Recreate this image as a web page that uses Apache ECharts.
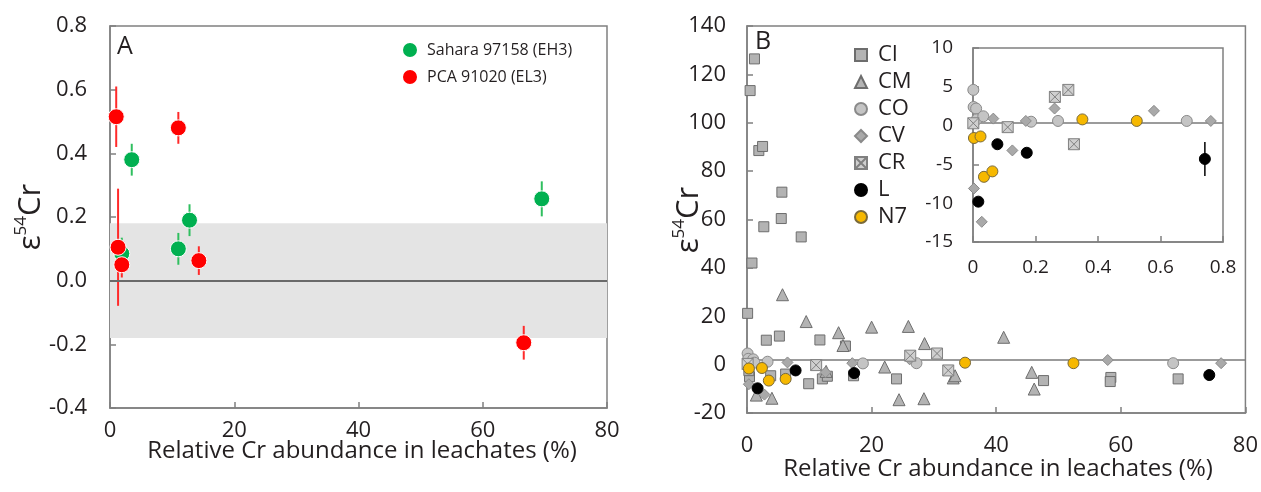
<!DOCTYPE html>
<html>
<head>
<meta charset="utf-8">
<script src="https://cdn.jsdelivr.net/npm/echarts@6/dist/echarts.min.js"></script>
<style>
html,body{margin:0;padding:0;background:#fff;}
#chart{width:1261px;height:492px;}
</style>
</head>
<body>
<div id="chart"></div>
<script>
// ---------- Panel A data: [relative Cr abundance %, e54Cr] ----------
const saharaPts = [[3.5,0.38],[12.8,0.19],[11.0,0.10],[1.9,0.085],[69.5,0.257]];
const saharaErr = [0.05,0.05,0.05,0.05,0.055];
const pcaPts = [[1.0,0.515],[11.0,0.48],[1.3,0.105],[1.9,0.05],[14.3,0.063],[66.6,-0.195]];
const pcaErr = [0.095,0.05,0.184,0.04,0.045,0.053];
const bandA = [-0.18, 0.18];

// ---------- Panel B data: [relative Cr abundance %, e54Cr] ----------
const ciPts = [[1.2,126.4],[0.5,113.3],[1.9,88.5],[2.5,90.2],[5.6,71.3],[5.5,60.4],[2.7,57],[8.7,52.8],[0.8,42],[0.1,21.2],[3.1,10.1],[5.2,11.8],[11.7,10.2],[15.8,7.7],[0.4,-5],[0.3,-2.5],[3.8,-4.6],[6.2,-3.9],[9.9,-7.9],[12.1,-5.9],[12.9,-4.8],[17.1,-4.6],[24.0,-5.9],[47.6,-6.6],[58.4,-5.3],[58.3,-7],[69.2,-5.9]];
const cmPts = [[5.7,28.9],[9.5,17.8],[14.7,13.2],[15.4,7.9],[20.0,15.5],[25.9,15.8],[28.5,8.7],[22.1,-1],[12.7,-2.8],[24.4,-14.5],[28.4,-14.1],[1.5,-12.6],[4.0,-13.9],[33.1,-5.5],[33.4,-4.6],[41.2,11.3],[45.7,-3.2],[46.1,-10.1]];
const coPts = [[0.1,4.6],[0.2,2.4],[1.0,2.2],[1.2,0.8],[3.3,1.2],[18.6,0.5],[27.2,0.6],[68.4,0.6]];
const cvPts = [[0.3,-8.1],[2.8,-12.4],[6.5,0.9],[12.6,-3.2],[16.9,0.6],[26.1,2.2],[57.9,1.9],[76.1,0.6]];
const crPts = [[0.1,0.3],[11.1,-0.2],[26.2,3.7],[30.5,4.6],[32.3,-2.4]];
const lPts = [[1.7,-9.8],[7.8,-2.4],[17.2,-3.5],[74.2,-4.3]];
const lErr = [0,0,0,2.2];
const n7Pts = [[0.3,-1.6],[2.4,-1.4],[3.5,-6.6],[6.2,-5.9],[35.0,0.8],[52.4,0.6]];
const refLineMain = 2;
const refLineInset = 0.4;

// ---------- tick labels / titles ----------
const xTicksPct = [0,20,40,60,80];
const insetXLabels = ['0','0.2','0.4','0.6','0.8'];
const xTitle = 'Relative Cr abundance in leachates (%)';
const yTitle = '{a|ε}{s|54}{a|Cr}';

const FONT = 'Open Sans';
const TXT = '#231f20';
const AX = '#808080';

function errSeries(pts, errs, xi, yi, color, width){
  return {
    type:'custom', xAxisIndex:xi, yAxisIndex:yi, silent:true, z:2,
    data: pts.map((d,i)=>[d[0], d[1]-errs[i], d[1]+errs[i]]),
    encode:{x:0, y:[1,2]},
    renderItem:(params, api)=>{
      const lo = api.coord([api.value(0), api.value(1)]);
      const hi = api.coord([api.value(0), api.value(2)]);
      return {type:'line', shape:{x1:lo[0],y1:lo[1],x2:hi[0],y2:hi[1]}, style:{stroke:color, lineWidth:width}};
    }
  };
}

const yRich = {
  a:{fontSize:31, fontFamily:FONT, fill:TXT, lineHeight:36},
  s:{fontSize:17, fontFamily:FONT, fill:TXT, verticalAlign:'top', lineHeight:18}
};

function xAxisDef(extra){
  return Object.assign({
    type:'value', min:0, max:80, interval:20,
    axisLine:{show:true, onZero:false, lineStyle:{color:AX, width:1.5}},
    axisTick:{show:true, inside:true, length:6, lineStyle:{color:AX, width:1.5}},
    splitLine:{show:false}
  }, extra);
}
function yAxisDef(extra){
  return Object.assign({
    type:'value',
    axisLine:{show:true, onZero:false, lineStyle:{color:AX, width:1.5}},
    axisTick:{show:true, inside:true, length:6, lineStyle:{color:AX, width:1.5}},
    splitLine:{show:false}
  }, extra);
}

const CR_PATH = 'path://M0 0L10 0L10 10L0 10Z M0 0L10 10M10 0L0 10';

const gridA = {left:110, top:26, width:497, height:382, show:true, borderColor:AX, borderWidth:1.5};
const gridB = {left:747, top:26, width:502, height:387, show:true, borderColor:AX, borderWidth:1.5};
const gridI = {left:973, top:48, width:250, height:194, show:true, borderColor:AX, borderWidth:1.5, backgroundColor:'#fff'};

function bSeries(name, pts, xi, yi, symbol, size, fill, stroke, z){
  return {
    name:name, type:'scatter', xAxisIndex:xi, yAxisIndex:yi, data:pts,
    symbol:symbol, symbolSize:size, z:z, clip:true,
    itemStyle:{color:fill, borderColor:stroke, borderWidth:1, opacity:1},
    emphasis:{disabled:true}
  };
}

const styles = {
  CI:['rect',10,'#b3b3b3','#6d6d6d'],
  CM:['triangle',12,'#b3b3b3','#6d6d6d'],
  CO:['circle',11,'#c4c4c4','#8a8a8a'],
  CV:['diamond',11,'#a9a9a9','#8a8a8a'],
  CR:[CR_PATH,11,'#cfcfcf','#808080'],
  L:['circle',11,'#000000','#000000'],
  N7:['circle',11,'#f6b800','#7a6a3a']
};

const series = [];
// Panel A band and zero line
series.push({
  type:'scatter', xAxisIndex:0, yAxisIndex:0, data:[], z:0, silent:true,
  markArea:{silent:true, itemStyle:{color:'#e4e4e4'}, data:[[{yAxis:bandA[0]},{yAxis:bandA[1]}]]},
  markLine:{silent:true, symbol:'none', label:{show:false}, lineStyle:{color:'#6a6a6a', width:2, type:'solid'}, data:[{yAxis:0}]}
});
series.push(errSeries(saharaPts, saharaErr, 0, 0, '#2fbf5f', 2));
series.push({name:'Sahara 97158 (EH3)', type:'scatter', xAxisIndex:0, yAxisIndex:0, data:saharaPts, symbolSize:16, z:3,
  itemStyle:{color:'#00b050', borderColor:'#ffffff', borderWidth:1, opacity:1}, emphasis:{disabled:true}});
series.push(errSeries(pcaPts, pcaErr, 0, 0, '#ff2a2a', 2));
series.push({name:'PCA 91020 (EL3)', type:'scatter', xAxisIndex:0, yAxisIndex:0, data:pcaPts, symbolSize:16, z:4,
  itemStyle:{color:'#ff0000', borderColor:'#ffffff', borderWidth:1, opacity:1}, emphasis:{disabled:true}});

// Panel B main
series.push({
  type:'scatter', xAxisIndex:1, yAxisIndex:1, data:[], z:0, silent:true,
  markLine:{silent:true, symbol:'none', label:{show:false}, lineStyle:{color:'#7a7a7a', width:1.5, type:'solid'}, data:[{yAxis:refLineMain}]}
});
const bData = [['CI',ciPts],['CM',cmPts],['CO',coPts],['CV',cvPts],['CR',crPts],['L',lPts],['N7',n7Pts]];
bData.forEach((d,i)=>{
  const s = styles[d[0]];
  series.push(bSeries(d[0], d[1], 1, 1, s[0], s[1], s[2], s[3], 3+i));
});
series.push(errSeries(lPts, lErr, 1, 1, '#000', 1.5));

// Inset (same data without CI / CM; x axis labelled as a fraction)
series.push({
  type:'scatter', xAxisIndex:2, yAxisIndex:2, data:[], z:5, silent:true,
  markLine:{silent:true, symbol:'none', label:{show:false}, lineStyle:{color:'#7a7a7a', width:1.5, type:'solid'}, data:[{yAxis:refLineInset}]}
});
series.push(errSeries(lPts, lErr, 2, 2, '#000', 1.5));
bData.slice(2).forEach((d,i)=>{
  const s = styles[d[0]];
  series.push(bSeries(d[0], d[1], 2, 2, s[0], s[1], s[2], s[3], 6+i));
});

const option = {
  animation:false,
  backgroundColor:'#fff',
  textStyle:{fontFamily:FONT},
  grid:[gridA, gridB, gridI],
  legend:[
    {data:['Sahara 97158 (EH3)','PCA 91020 (EL3)'], orient:'vertical', left:401, top:41, padding:0,
     itemWidth:16, itemHeight:16, itemGap:9, selectedMode:false,
     textStyle:{fontFamily:FONT, fontSize:16, color:TXT, lineHeight:16, padding:[0,0,0,4]}},
    {data:['CI','CM','CO','CV','CR','L','N7'], orient:'vertical', left:854, top:44, padding:0,
     itemWidth:12, itemHeight:12, itemGap:5, selectedMode:false,
     textStyle:{fontFamily:FONT, fontSize:22, color:TXT, lineHeight:21, padding:[0,0,0,6]}}
  ],
  xAxis:[
    xAxisDef({gridIndex:0, axisLabel:{color:TXT, fontFamily:FONT, fontSize:22, margin:12}}),
    xAxisDef({gridIndex:1, axisLabel:{color:TXT, fontFamily:FONT, fontSize:22, margin:22}}),
    xAxisDef({gridIndex:2, axisLabel:{color:TXT, fontFamily:FONT, fontSize:19, margin:16,
        formatter:(v)=>insetXLabels[xTicksPct.indexOf(v)]}})
  ],
  yAxis:[
    yAxisDef({gridIndex:0, min:-0.4, max:0.8, interval:0.2,
     axisLabel:{color:TXT, fontFamily:FONT, fontSize:22, margin:23, formatter:(v)=>v.toFixed(1)}}),
    yAxisDef({gridIndex:1, min:-20, max:140, interval:20,
     axisLabel:{color:TXT, fontFamily:FONT, fontSize:22, margin:21}}),
    yAxisDef({gridIndex:2, min:-15, max:10, interval:5,
     axisLabel:{color:TXT, fontFamily:FONT, fontSize:19, margin:20}})
  ],
  graphic:[
    {type:'text', left:117, top:34, style:{text:'A', font:'25px "Open Sans"', fill:TXT}},
    {type:'text', left:755, top:29, style:{text:'B', font:'25px "Open Sans"', fill:TXT}},
    {type:'text', x:362, y:451, style:{text:xTitle, font:'24px "Open Sans"', fill:TXT, align:'center', verticalAlign:'middle'}},
    {type:'text', x:998, y:469, style:{text:xTitle, font:'24px "Open Sans"', fill:TXT, align:'center', verticalAlign:'middle'}},
    {type:'text', x:31, y:217, rotation:Math.PI/2, style:{text:yTitle, rich:yRich, fill:TXT, align:'center', verticalAlign:'middle'}},
    {type:'text', x:689, y:220, rotation:Math.PI/2, style:{text:yTitle, rich:yRich, fill:TXT, align:'center', verticalAlign:'middle'}}
  ],
  series:series
};

const chart = echarts.init(document.getElementById('chart'), null, {renderer:'canvas'});
chart.setOption(option);
</script>
</body>
</html>
